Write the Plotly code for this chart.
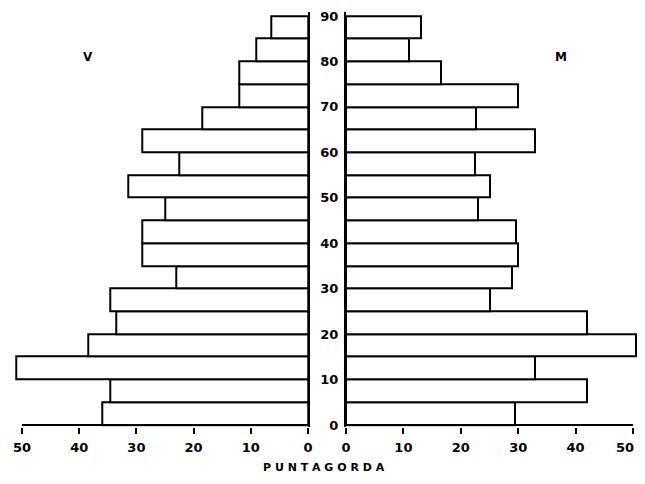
import plotly.graph_objects as go

# Age groups (lower bound of each 5-year class)
age_lower = [0, 5, 10, 15, 20, 25, 30, 35, 40, 45, 50, 55, 60, 65, 70, 75, 80, 85]
age_mid = [a + 2.5 for a in age_lower]

# V (left) and M (right) values
v_values = [36, 34.5, 51, 38.5, 33.5, 34.5, 23, 29, 29, 25, 31.5, 22.5, 29, 18.5, 12, 12, 9, 6.5]
m_values = [29.5, 42, 33, 50.5, 42, 25, 29, 30, 29.7, 23, 25, 22.5, 33, 22.7, 30, 16.5, 11, 13]

x_ticks = [0, 10, 20, 30, 40, 50]
x_labels = ["0", "10", "20", "30", "40", "50"]
y_ticks = [0, 10, 20, 30, 40, 50, 60, 70, 80, 90]

# the page body has an 8px margin, so the figure is drawn 8px in from the top-left;
# keep the page from overflowing vertically (which would add a scrollbar)
OFF = 8
W, H = 645 - OFF, 484 - 2 * OFF
VIS_RIGHT = 637  # last visible pixel column on the page
# pixel geometry (reference coordinates, converted to figure coordinates)
L0, L50 = 308 - OFF, 22 - OFF
R0, R50 = 346 - OFF, 633 - OFF
Y0, Y90 = 425 - OFF, 16 - OFF
lpx = (L0 - L50) / 50
rpx = (R50 - R0) / 50
ypx = (Y0 - Y90) / 90

lmax = 52.4
rmax = 51.5
ymin, ymax = -0.4, 90.8

font = dict(family="DejaVu Sans", size=13, color="black", weight="bold")
small_font = dict(family="DejaVu Sans", size=13, color="black", weight="bold")

fig = go.Figure()
bar_style = dict(color="white", line=dict(color="black", width=2))
fig.add_trace(go.Bar(y=age_mid, x=v_values, orientation="h", width=5,
                     marker=bar_style, xaxis="x", yaxis="y", showlegend=False))
fig.add_trace(go.Bar(y=age_mid, x=m_values, orientation="h", width=5,
                     marker=bar_style, xaxis="x2", yaxis="y2", showlegend=False))

ydom = [(H - (Y0 + (0 - ymin) * ypx)) / H, min(1.0, (H - (Y0 - ymax * ypx)) / H)]


def px_x(p):
    return (p - OFF) / W


def px_y(p):
    return (H - (p - OFF)) / H


fig.update_layout(
    width=W, height=H,
    margin=dict(l=0, r=0, t=0, b=0, autoexpand=False),
    paper_bgcolor="white", plot_bgcolor="white",
    bargap=0,
    xaxis=dict(
        domain=[max(0.0, (L0 - lmax * lpx) / W), L0 / W], range=[lmax, 0], anchor="y",
        tickvals=x_ticks, ticktext=x_labels, ticks="outside", ticklen=6, tickwidth=2,
        tickcolor="black", showgrid=False, zeroline=False, showline=False, tickfont=font,
        ticklabelstandoff=3, automargin=False,
    ),
    xaxis2=dict(
        domain=[R0 / W, min(1.0, (R0 + rmax * rpx) / W)], range=[0, rmax], anchor="y2",
        tickvals=x_ticks, ticktext=x_labels[:-1] + [""], ticks="outside", ticklen=6,
        tickwidth=2, tickcolor="black", showgrid=False, zeroline=False, showline=False,
        tickfont=font, ticklabelstandoff=3, automargin=False,
    ),
    yaxis=dict(
        domain=ydom,
        range=[ymin, ymax], anchor="x", side="right",
        showticklabels=False, showgrid=False, zeroline=False,
        showline=True, linecolor="black", linewidth=2, automargin=False,
    ),
    yaxis2=dict(
        domain=ydom,
        range=[ymin, ymax], anchor="x2", side="left",
        tickvals=y_ticks, ticks="", showgrid=False, zeroline=False,
        showline=True, linecolor="black", linewidth=2, tickfont=small_font,
        ticklabelstandoff=3, automargin=False,
    ),
    shapes=[
        dict(type="line", xref="x", yref="y", x0=0, x1=50, y0=0, y1=0,
             line=dict(color="black", width=2)),
        dict(type="line", xref="x2", yref="y2", x0=0, x1=50, y0=0, y1=0,
             line=dict(color="black", width=2)),
    ],
    annotations=[
        dict(text=x_labels[-1], x=px_x(VIS_RIGHT - 1), y=px_y(447), xref="paper", yref="paper",
             xanchor="right", yanchor="middle", showarrow=False, font=font),
        dict(text="V", x=px_x(88), y=px_y(57), xref="paper", yref="paper",
             xanchor="center", yanchor="middle", showarrow=False,
             font=dict(family="DejaVu Sans", size=12, color="black", weight="bold")),
        dict(text="M", x=px_x(561), y=px_y(57), xref="paper", yref="paper",
             xanchor="center", yanchor="middle", showarrow=False,
             font=dict(family="DejaVu Sans", size=12, color="black", weight="bold")),
        dict(text="P U N T A G O R D A", x=px_x(324), y=px_y(467), xref="paper", yref="paper",
             xanchor="center", yanchor="middle", showarrow=False,
             font=dict(family="DejaVu Sans", size=11, color="black", weight="bold")),
    ],
)

fig.write_html("out.html")
